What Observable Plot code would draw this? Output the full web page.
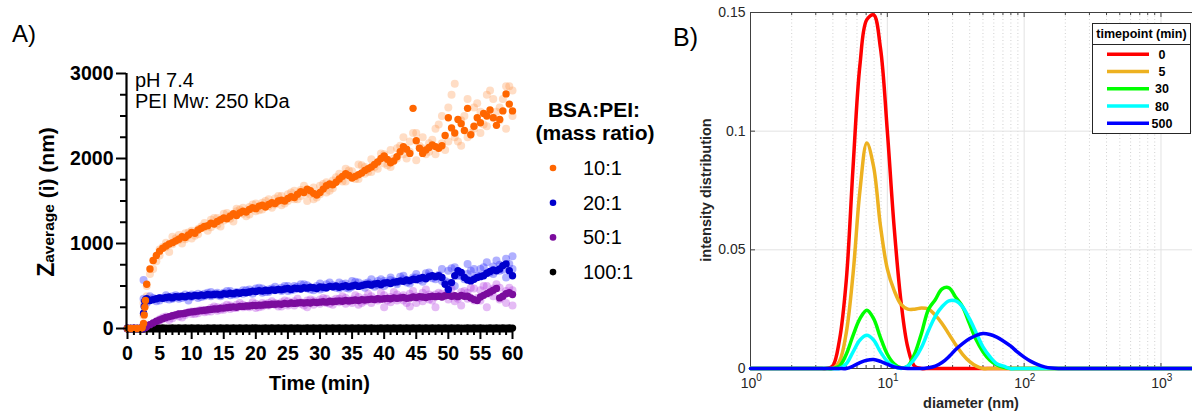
<!DOCTYPE html>
<html><head><meta charset="utf-8">
<script src="https://cdn.jsdelivr.net/npm/d3@7"></script>
<script src="https://cdn.jsdelivr.net/npm/@observablehq/plot@0.6"></script>
<style>
body{margin:0;background:#fff;}
#wrap{position:relative;width:1192px;height:413px;overflow:hidden;background:#fff;}
#wrap svg{position:absolute;top:0;max-width:none;}
</style></head><body><div id="wrap"></div>
<script>
// ---------- Panel A data ----------
const seriesA = ["10:1", "20:1", "50:1", "100:1"];
const colorsA = ["#ff6600", "#0000cd", "#7b0c9d", "#000000"];
const faintA = ["#ff9040", "#3030ff", "#b030e0"];
const faintOpacityA = [0.3, 0.38, 0.33];

const timeMean = [0,0.5,1,1.5,2,2.3,2.5,2.6,2.7,2.8,
3,3.5,4,4.5,5,5.5,6,6.5,7,7.5,
8,8.5,9,9.5,10,10.5,11,11.5,12,12.5,
13,13.5,14,14.5,15,15.5,16,16.5,17,17.5,
18,18.5,19,19.5,20,20.5,21,21.5,22,22.5,
23,23.5,24,24.5,25,25.5,26,26.5,27,27.5,
28,28.5,29,29.5,30,30.5,31,31.5,32,32.5,
33,33.5,34,34.5,35,35.5,36,36.5,37,37.5,
38,38.5,39,39.5,40,40.5,41,41.5,42,42.5,
43,43.5,44,44.5,45,45.5,46,46.5,47,47.5,
48,48.5,49,49.5,50,50.5,51,51.5,52,52.5,
53,53.5,54,54.5,55,55.5,56,56.5,57,57.5,
58,58.5,59,59.5,60];

const mean10 = [0,0,0,0,0,10,60,160,250,330,
520,700,800,860,910,945,970,995,1010,1030,
1050,1080,1070,1100,1130,1120,1160,1180,1200,1210,
1240,1230,1260,1280,1300,1290,1320,1350,1330,1360,
1380,1370,1400,1420,1410,1440,1450,1430,1460,1480,
1470,1500,1510,1500,1530,1550,1540,1580,1610,1600,
1640,1620,1590,1570,1600,1640,1680,1700,1690,1720,
1760,1790,1820,1800,1770,1790,1810,1830,1860,1880,
1900,1930,1960,2000,2030,1990,1950,1970,2020,2080,
2140,2110,2060,2590,2210,2120,2060,2100,2130,2160,
2140,2120,2150,2270,2480,2360,2300,2460,2410,2330,
2590,2280,2380,2480,2420,2530,2500,2570,2480,2390,
2460,2560,2760,2640,2560];

const mean20 = [0,0,0,0,0,0,180,260,320,340,
350,330,340,350,360,355,365,370,360,375,
370,380,375,385,380,390,385,395,390,400,
395,400,405,395,410,405,415,410,420,415,
425,420,430,440,435,445,440,450,445,455,
450,460,455,465,470,460,475,470,465,480,
475,485,480,470,490,485,480,495,490,500,
485,495,505,490,500,510,495,505,515,520,
510,525,530,515,535,540,530,545,550,560,
555,570,565,580,575,590,600,585,610,620,
610,620,600,520,460,540,620,680,660,600,
570,560,580,600,610,620,650,670,690,680,
700,740,760,680,620];

const mean50 = [0,0,0,0,0,0,0,5,10,15,
25,45,65,85,100,115,130,140,150,160,
170,175,180,190,195,200,205,210,215,220,
225,230,230,240,240,245,250,255,250,260,
260,265,265,270,270,275,275,280,280,285,
285,290,285,295,290,300,295,300,305,300,
305,300,310,305,310,315,310,320,315,320,
325,320,330,325,330,335,330,340,335,340,
345,340,350,345,350,355,350,360,355,360,
365,355,360,370,365,375,370,365,375,380,
375,380,370,385,390,380,385,375,390,380,
380,360,340,330,370,390,410,430,450,470,
360,380,410,420,400];

const mean100 = [0,0,0,0,0,0,0,0,2,4,
5,6,4,7,5,6,5,4,6,5,
6,5,7,4,6,5,6,4,5,6,
5,7,5,6,4,6,5,7,5,6,
4,6,5,6,7,5,4,6,5,6,
5,6,4,7,5,6,5,6,4,5,
6,5,7,5,6,4,6,5,6,5,
7,5,6,4,6,5,6,5,7,5,
6,4,5,6,5,7,5,6,4,6,
5,6,5,7,4,6,5,6,5,7,
5,6,4,6,5,7,5,6,5,4,
6,5,7,5,6,5,4,6,5,7,
5,6,4,6,5];

const timeRep = [0,1,2,2.5,
3,4,5,6,7,8,9,10,11,12,
13,14,15,16,17,18,19,20,21,22,
23,24,25,26,27,28,29,30,31,32,
33,34,35,36,37,38,39,40,41,42,
43,44,45,46,47,48,49,50,51,52,
53,54,55,56,57,58,59,60];

const rep10a = [0,0,0,300, 500,800,930,960,1080,1040,1120,1060,1170,1190, 1190,1300,1270,1330,1410,1350,1430,1380,1480,1440, 1530,1450,1580,1520,1630,1590,1520,1680,1600,1740, 1820,1730,1850,1760,1900,1840,1960,2050,1900,2120, 2050,2200,1980,2250,2080,2350,2180,2600,2250,2450, 2700,2350,2550,2380,2700,2450,2850,2500];
const rep10b = [0,0,0,150, 380,700,860,1010,990,1100,1050,1150,1110,1240, 1280,1220,1350,1290,1380,1420,1340,1470,1400,1520, 1460,1560,1500,1620,1560,1500,1660,1580,1720,1650, 1750,1880,1790,1930,1820,1990,1880,1940,2100,2000, 2250,2080,2300,2120,2180,2050,2500,2200,2880,2150, 2250,2600,2300,2750,2480,2600,2350,2800];
const rep20a = [0,0,0,570, 300,340,360,390,350,380,400,370,410,380, 430,390,420,440,400,450,430,470,420,460, 490,440,500,460,520,470,450,530,480,510, 540,480,560,500,530,580,510,560,600,540, 620,560,640,590,660,610,700,540,720,620, 760,590,700,650,730,680,820,700];
const rep20b = [0,0,0,350, 320,360,330,350,380,350,370,400,360,410, 380,420,400,390,430,410,460,440,470,430, 450,480,440,500,470,510,480,460,520,490, 470,530,490,540,480,520,560,500,570,520, 580,530,600,550,620,580,560,680,500,650, 640,700,620,780,640,750,600,850];
const rep50a = [0,0,0,0, 10,60,110,140,120,170,160,200,180,210, 200,250,220,270,240,280,250,290,260,300, 280,310,270,320,290,330,280,340,300,330, 310,360,300,370,320,380,330,390,310,400, 330,410,300,420,340,400,380,450,320,430, 350,470,330,500,380,480,300,450];
const rep50b = [0,0,0,0, 20,50,90,120,150,140,180,170,210,190, 240,210,260,230,280,250,270,240,300,270, 300,260,320,270,310,250,330,290,350,280, 350,290,340,280,360,300,350,250,370,330, 390,260,380,320,400,250,410,340,380,270, 420,330,450,250,470,340,440,270];

const timeRep2 = [3.5,4.5,5.5,6.5,7.5,8.5,9.5,10.5,11.5,12.5,
13.5,14.5,15.5,16.5,17.5,18.5,19.5,20.5,21.5,22.5,
23.5,24.5,25.5,26.5,27.5,28.5,29.5,30.5,31.5,32.5,
33.5,34.5,35.5,36.5,37.5,38.5,39.5,40.5,41.5,42.5,
43.5,44.5,45.5,46.5,47.5,48.5,49.5,50.5,51.5,52.5,
53.5,54.5,55.5,56.5,57.5,58.5,59.5];
const rep10c = [640,790,960,900,1060,1000,1130,1090,1200,1150, 1300,1200,1360,1260,1400,1320,1460,1390,1500,1420, 1560,1470,1600,1520,1680,1580,1540,1700,1620,1780, 1730,1860,1760,1920,1840,1900,2060,1920,2000,2150, 2000,2300,2150,2050,2220,2400,2100,2750,2200,2500, 2300,2650,2400,2800,2550,2700,2850];
const rep20c = [380,320,360,340,390,360,330,390,370,420, 410,380,440,400,420,450,410,480,430,470, 460,500,450,490,520,460,500,470,540,480, 520,470,550,510,540,490,580,530,560,610, 540,600,570,650,590,630,560,710,620,580, 680,620,720,660,800,690,760];
const rep50c = [40,70,130,100,160,130,190,170,220,200, 260,220,280,240,300,260,310,250,290,320, 260,330,300,350,270,340,310,360,290,350, 380,320,390,300,410,350,420,330,430,370, 300,440,360,460,330,420,390,470,350,440, 480,360,500,420,520,380,480];

const yMajorA = [0, 1000, 2000, 3000];
const yMinorA = [250,500,750,1250,1500,1750,2250,2500,2750];
const xMajorA = [0,5,10,15,20,25,30,35,40,45,50,55,60];
const xMinorA = [1,2,3,4,6,7,8,9,11,12,13,14,16,17,18,19,21,22,23,24,26,27,28,29,31,32,33,34,36,37,38,39,41,42,43,44,46,47,48,49,51,52,53,54,56,57,58,59];

// ---------- Panel B data ----------
const seriesB = ["0", "5", "30", "80", "500"];
const colorsB = ["#ff0000", "#edb120", "#00ff00", "#00ffff", "#0000ff"];
const diameterB = [1, 3.16,3.55,3.98,4.47,5.01,5.62,6.31,7.08,7.94,8.91,
  10,11.2,12.6,14.1,15.8,17.8,20,22.4,25.1,28.2,
  31.6,35.5,39.8,44.7,50.1,56.2,63.1,70.8,79.4,89.1,
  100,112,126,141,158,178,200, 1700];
const dist0 = [0, 0,0,0.001,0.012,0.037,0.085,0.128,0.147,0.149,0.135,
  0.100,0.060,0.028,0.009,0.001,0,0,0,0,0,
  0,0,0,0,0,0,0,0,0,0, 0,0,0,0,0,0,0, 0];
const dist5 = [0, 0,0,0,0.003,0.015,0.040,0.075,0.095,0.085,0.060,
  0.042,0.033,0.027,0.025,0.025,0.0255,0.025,0.0225,0.019,0.0145,
  0.010,0.006,0.003,0.001,0,0,0,0,0,0, 0,0,0,0,0,0,0, 0];
const dist30 = [0, 0,0,0,0.001,0.006,0.014,0.021,0.0245,0.021,0.013,
  0.006,0.002,0.0003,0.001,0.006,0.015,0.025,0.029,0.0335,0.034,
  0.030,0.026,0.019,0.012,0.007,0.0035,0.0015,0.0005,0,0, 0,0,0,0,0,0,0, 0];
const dist80 = [0, 0,0,0,0,0.002,0.007,0.012,0.014,0.012,0.007,
  0.003,0.001,0,0.001,0.004,0.009,0.016,0.022,0.026,0.0285,
  0.0285,0.026,0.021,0.015,0.009,0.005,0.002,0.001,0,0, 0,0,0,0,0,0,0, 0];
const dist500 = [0, 0,0,0,0,0,0.001,0.0025,0.0035,0.0038,0.003,
  0.0018,0.0007,0.0002,0,0,0,0.0003,0.001,0.0025,0.005,
  0.008,0.0105,0.0125,0.014,0.0147,0.0143,0.0132,0.0115,0.0095,0.007,
  0.0048,0.003,0.0016,0.0007,0.0002,0,0, 0];
const yTicksB = [0, 0.05, 0.1, 0.15];
const xDecadesB = [1, 10, 100, 1000];
const xDecadeExpB = ["0", "1", "2", "3"];
const xMinorB = [2,3,4,5,6,7,8,9,20,30,40,50,60,70,80,90,200,300,400,500,600,700,800,900];
const xMajorGridB = [10, 100, 1000];
const yGridB = [0.05, 0.1];

// ---------- Build ----------
const FONT = "'Liberation Sans', Arial, Helvetica, sans-serif";
const wrap = document.getElementById("wrap");

const meanSets = [mean10, mean20, mean50, mean100];
const repSets = [[rep10a, rep10b, rep10c], [rep20a, rep20b, rep20c], [rep50a, rep50b, rep50c]];
const repMarks = [];
repSets.forEach((reps, i) => reps.forEach((vals, k) => {
  const tt = k < 2 ? timeRep : timeRep2;
  repMarks.push(Plot.dot(tt.map((t, j) => ({t, v: vals[j]})),
    {x: "t", y: "v", r: 4, fill: faintA[i], fillOpacity: faintOpacityA[i]}));
}));
const meanMarks = [3, 2, 1, 0].map(i => Plot.dot(timeMean.map((t, j) => ({t, v: meanSets[i][j]})),
  {x: "t", y: "v", r: 3.7, fill: colorsA[i]}));

const A = Plot.plot({
  width: 660, height: 413,
  marginLeft: 126, marginRight: 148, marginTop: 73, marginBottom: 82,
  insetLeft: 1, insetBottom: 3,
  x: {domain: [0, 60]},
  y: {domain: [0, 3000]},
  style: {fontFamily: FONT, background: "transparent", color: "#000", overflow: "visible"},
  marks: [
    ...repMarks,
    Plot.ruleY([0], {stroke: "#000", strokeWidth: 2, dy: 3}),
    ...meanMarks,
    Plot.ruleX([0], {stroke: "#000", strokeWidth: 2.2, dx: -1}),
    Plot.axisY({ticks: yMajorA, tickSize: 10, tickPadding: 3, stroke: "#000", strokeWidth: 2, fontSize: 19.5, fontWeight: "bold", tickFormat: d => String(d), label: null}),
    Plot.axisY({ticks: yMinorA, tickSize: 6, stroke: "#000", strokeWidth: 2, tickFormat: () => "", label: null}),
    Plot.axisX({ticks: xMajorA, tickSize: 8, tickPadding: 7, stroke: "#000", strokeWidth: 2, fontSize: 19.5, fontWeight: "bold", tickFormat: d => String(d), label: null}),
    Plot.axisX({ticks: xMinorA, tickSize: 4, stroke: "#000", strokeWidth: 2, tickFormat: () => "", label: null})
  ]
});
A.style.left = "0px";
wrap.appendChild(A);

const sA = d3.select(A);
const txt = (sel, x, y, size, s, opts = {}) => sel.append("text").attr("x", x).attr("y", y)
  .attr("font-size", size).attr("font-family", FONT).attr("text-anchor", opts.anchor || "start")
  .attr("font-weight", opts.weight || "normal").attr("fill", opts.fill || "#000").text(s);
txt(sA, 12, 42, 24, "A)");
txt(sA, 135, 87, 20, "pH 7.4");
txt(sA, 135, 108, 20, "PEI Mw: 250 kDa");
txt(sA, 319.5, 390, 20, "Time (min)", {anchor: "middle", weight: "bold"});
const yl = sA.append("text").attr("transform", "translate(54,202) rotate(-90)").attr("text-anchor", "middle")
  .attr("font-weight", "bold").attr("font-family", FONT).attr("fill", "#000");
yl.append("tspan").attr("font-size", 23).text("Z");
yl.append("tspan").attr("font-size", 15.5).text("average");
yl.append("tspan").attr("font-size", 21).text(" (i) (nm)");
// legend A
txt(sA, 594, 117, 21, "BSA:PEI:", {anchor: "middle", weight: "bold"});
txt(sA, 595, 140, 21, "(mass ratio)", {anchor: "middle", weight: "bold"});
seriesA.forEach((s, i) => {
  const cy = 168 + i * 34.7;
  sA.append("circle").attr("cx", 553).attr("cy", cy).attr("r", 3.3).attr("fill", colorsA[i]);
  txt(sA, 583, cy + 7, 20, s);
});

// Panel B
const distSets = [dist0, dist5, dist30, dist80, dist500];
const lineMarks = distSets.map((vals, i) => Plot.line(diameterB.map((d, j) => ({d, v: vals[j]})),
  {x: "d", y: "v", stroke: colorsB[i], strokeWidth: 3.5, curve: "catmull-rom", strokeLinejoin: "round"}));
const frameH = 413 - 12 - 45, frameW = 532 - 90;
const axisC = "#404040";
const B = Plot.plot({
  width: 532, height: 413,
  marginLeft: 90, marginRight: 0, marginTop: 12, marginBottom: 45,
  x: {type: "log", domain: [1, 1700], axis: null},
  y: {domain: [0, 0.15]},
  style: {fontFamily: FONT, background: "transparent", color: "#262626", overflow: "visible"},
  marks: [
    Plot.ruleX(xMinorB, {stroke: "#c4c4c4", strokeDasharray: "1,2.5", strokeWidth: 0.8}),
    Plot.ruleX(xMajorGridB, {stroke: "#e2e2e2", strokeWidth: 1}),
    Plot.ruleY(yGridB, {stroke: "#e2e2e2", strokeWidth: 1}),
    Plot.ruleY([0.15], {stroke: axisC}),
    Plot.ruleY([0], {stroke: axisC}),
    Plot.ruleX([1], {stroke: axisC}),
    Plot.ruleX(xMinorB, {stroke: axisC, insetBottom: frameH - 3}),
    Plot.ruleX(xMajorGridB, {stroke: axisC, insetBottom: frameH - 5}),
    Plot.ruleX(xMinorB, {stroke: axisC, insetTop: frameH - 3}),
    Plot.ruleX(xMajorGridB, {stroke: axisC, insetTop: frameH - 5}),
    Plot.ruleY(yTicksB, {stroke: axisC, insetRight: frameW - 5}),
    Plot.axisY({ticks: yTicksB, tickSize: 0, tickPadding: 5, fontSize: 14, tickFormat: d => String(d), label: null}),
    Plot.text(xDecadesB, {x: d => d, text: () => "10", frameAnchor: "bottom", dy: 19, dx: -2, fontSize: 14}),
    Plot.text(xDecadesB, {x: d => d, text: (d, i) => xDecadeExpB[i], frameAnchor: "bottom", dy: 12, dx: 8.5, fontSize: 10}),
    ...lineMarks
  ]
});
B.style.left = "660px";
wrap.appendChild(B);

const sB = d3.select(B);
txt(sB, 13, 46, 25, "B)");
sB.append("text").attr("transform", "translate(51,190) rotate(-90)").attr("text-anchor", "middle")
  .attr("font-size", 14.5).attr("font-weight", "bold").attr("font-family", FONT).attr("fill", "#262626").text("intensity distribution");
txt(sB, 311, 408, 14.5, "diameter (nm)", {anchor: "middle", weight: "bold", fill: "#262626"});
// legend B
const lg = sB.append("g");
lg.append("rect").attr("x", 432.5).attr("y", 23.5).attr("width", 98).attr("height", 110)
  .attr("fill", "#fff").attr("stroke", "#262626").attr("stroke-width", 1);
txt(lg, 481.5, 38, 12.5, "timepoint (min)", {anchor: "middle", weight: "bold"});
lg.append("line").attr("x1", 432.5).attr("x2", 530.5).attr("y1", 44.5).attr("y2", 44.5).attr("stroke", "#262626");
seriesB.forEach((s, i) => {
  const cy = 54.3 + i * 17.25;
  lg.append("line").attr("x1", 447).attr("x2", 489).attr("y1", cy).attr("y2", cy)
    .attr("stroke", colorsB[i]).attr("stroke-width", 3.5);
  txt(lg, 502, cy + 4.5, 12.5, s, {anchor: "middle", weight: "bold"});
});
</script></body></html>
